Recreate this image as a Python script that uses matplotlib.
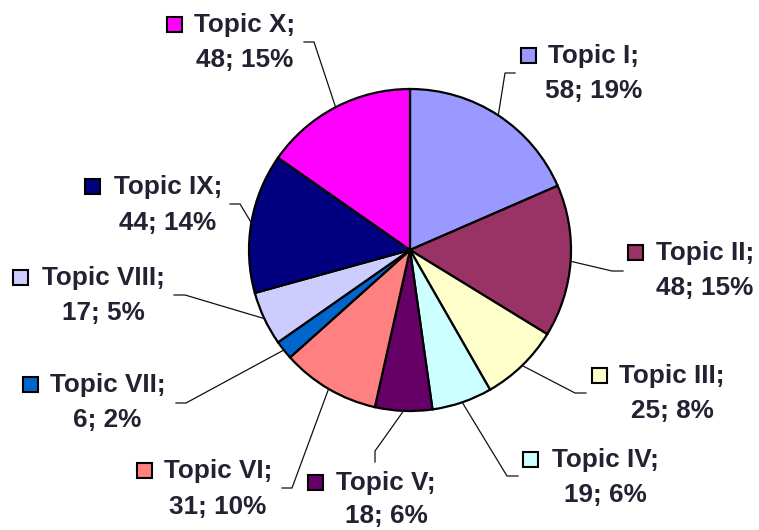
import numpy as np
import matplotlib
matplotlib.use('Agg')
import matplotlib.pyplot as plt
from matplotlib.patches import Rectangle

# Data
topics = ['Topic I', 'Topic II', 'Topic III', 'Topic IV', 'Topic V',
          'Topic VI', 'Topic VII', 'Topic VIII', 'Topic IX', 'Topic X']
counts = [58, 48, 25, 19, 18, 31, 6, 17, 44, 48]
percents = [19, 15, 8, 6, 6, 10, 2, 5, 14, 15]
colors = ['#9999FF', '#993366', '#FFFFCC', '#CCFFFF', '#660066',
          '#FF8080', '#0066CC', '#CCCCFF', '#000080', '#FF00FF']

# Layout (pixel coords, y measured from top)
W, H = 759, 530
label_cx = [594, 705, 672, 605, 386, 218, 107.5, 103, 168, 244.5]
label_b1 = [63, 260, 383, 467, 490, 478, 392, 285, 194, 32]
label_b2 = [98, 295, 418, 502, 523, 514, 427, 320, 230, 67]
square_x = [521, 628, 592, 523, 308, 137, 23, 13, 85, 167]
elbow = [(505, 73), (612, 271), (575, 393), (507, 476), (375, 451),
         (292, 488), (186, 403), (185, 295), (240, 204), (314, 42)]
leader_end = [(515, 73), (623, 271), (586, 393), (518, 476), (375, 462),
              (282, 488), (176, 403), (174, 295), (230, 204), (304, 42)]

def Y(y):
    return H - y

TEXT_COLOR = '#222233'
FONT = dict(family='Liberation Sans', weight='bold', size=18.8, color=TEXT_COLOR)

fig = plt.figure(figsize=(W / 100, H / 100), dpi=100)
ax = fig.add_axes([0, 0, 1, 1])

center = (410, Y(250))
radius = 161
wedges, _ = ax.pie(counts, colors=colors, startangle=90, counterclock=False,
                   center=center, radius=radius,
                   wedgeprops=dict(edgecolor='black', linewidth=1.6))

ax.set_xlim(0, W)
ax.set_ylim(0, H)
ax.set_aspect('equal')
ax.axis('off')

for i, w in enumerate(wedges):
    # leader line from the wedge edge at its mid angle
    ang = np.deg2rad((w.theta1 + w.theta2) / 2)
    x0 = center[0] + radius * np.cos(ang)
    y0 = center[1] + radius * np.sin(ang)
    ex, ey = elbow[i]
    lx, ly = leader_end[i]
    ax.plot([x0, ex, lx], [y0, Y(ey), Y(ly)], color='#111111', lw=0.9,
            solid_joinstyle='miter', zorder=1)

    ax.text(label_cx[i], Y(label_b1[i]), f'{topics[i]};', ha='center',
            va='baseline', **FONT)
    ax.text(label_cx[i], Y(label_b2[i]), f'{counts[i]}; {percents[i]}%',
            ha='center', va='baseline', **FONT)
    ax.add_patch(Rectangle((square_x[i], Y(label_b1[i])), 15, 15,
                           facecolor=colors[i], edgecolor='black', lw=1.5))

fig.savefig('out.png', dpi=100)
